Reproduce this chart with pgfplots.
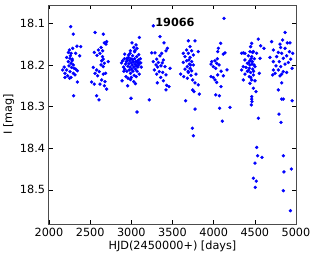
\documentclass[border=0pt]{standalone}
\usepackage{fontspec}
\setmainfont{DejaVu Sans}
\usepackage{pgfplots}
\pgfplotsset{compat=1.18}
\begin{document}
\fontsize{11.3}{13}\selectfont
\begin{tikzpicture}
\useasboundingbox (-49bp,-35bp) rectangle (267bp,224bp);
\begin{axis}[
  scale only axis,
  width=247bp, height=219bp,
  xmin=2000, xmax=5000,
  ymin=18.056, ymax=18.582,
  y dir=reverse,
  xtick={2000,2500,...,5000},
  ytick={18.1,18.2,18.3,18.4,18.5},
  yticklabels={18.1,18.2,18.3,18.4,18.5},
  /pgf/number format/assume math mode=true,
  /pgf/number format/1000 sep={},
  tick align=inside,
  major tick length=4bp,
  tick style={black, line width=0.5bp},
  axis line style={black!70, line width=1bp},
  xlabel={HJD(2450000+) [days]},
  ylabel={I [mag]},
  tick label style={font=\fontsize{11.3}{13}\selectfont},
  label style={font=\fontsize{11.3}{13}\selectfont},
  xlabel style={yshift=3bp},
  ylabel style={yshift=-2bp},
  clip=false,
]
\addplot[only marks, mark=*, mark size=1.5bp, color=blue, mark options={fill=blue, draw=blue}] table {
2263 18.108
2295 18.126
2340 18.155
2385 18.156
2288 18.160
2247 18.164
2235 18.170
2268 18.172
2324 18.172
2373 18.178
2215 18.182
2255 18.184
2283 18.186
2235 18.192
2268 18.196
2295 18.200
2243 18.202
2275 18.206
2166 18.212
2215 18.212
2324 18.210
2344 18.214
2255 18.216
2194 18.220
2295 18.220
2227 18.226
2194 18.230
2267 18.230
2316 18.224
2344 18.241
2299 18.274
2280 18.190
2260 18.178
2305 18.208
2185 18.205
2250 18.232
2559 18.122
2660 18.126
2700 18.144
2672 18.147
2692 18.150
2632 18.158
2599 18.164
2652 18.166
2550 18.170
2619 18.172
2583 18.177
2660 18.186
2640 18.190
2720 18.192
2672 18.196
2632 18.200
2660 18.204
2538 18.206
2579 18.212
2611 18.216
2559 18.220
2660 18.222
2688 18.220
2591 18.226
2640 18.236
2680 18.240
2518 18.241
2550 18.246
2619 18.246
2672 18.250
2700 18.258
2579 18.274
2607 18.284
2650 18.180
3097 18.134
3008 18.147
3057 18.152
3029 18.158
3069 18.160
2988 18.166
3040 18.168
2919 18.174
2968 18.176
3016 18.178
2947 18.184
2880 18.195
2895 18.190
2905 18.205
2915 18.185
2920 18.210
2930 18.198
2940 18.192
2945 18.215
2950 18.188
2958 18.203
2965 18.182
2970 18.197
2975 18.212
2980 18.190
2985 18.205
2990 18.220
2995 18.185
3000 18.195
3005 18.210
3010 18.200
3015 18.188
3020 18.215
3025 18.193
3030 18.205
3035 18.225
3040 18.185
3045 18.198
3050 18.210
3055 18.192
3060 18.202
3065 18.180
3070 18.215
3075 18.195
3080 18.205
3085 18.188
3090 18.200
3095 18.222
3100 18.195
3110 18.185
3120 18.205
2935 18.228
2960 18.232
3000 18.230
3030 18.240
3060 18.228
2985 18.172
3045 18.165
2910 18.215
3090 18.175
3115 18.195
2990 18.235
3050 18.245
3080 18.190
2887 18.238
2956 18.250
2996 18.280
3069 18.313
3218 18.284
3267 18.106
3348 18.132
3397 18.147
3437 18.160
3421 18.166
3247 18.171
3288 18.171
3369 18.172
3348 18.178
3308 18.186
3389 18.188
3267 18.192
3328 18.194
3300 18.200
3360 18.202
3409 18.204
3470 18.208
3279 18.212
3340 18.216
3381 18.218
3308 18.222
3421 18.224
3357 18.230
3316 18.243
3389 18.238
3429 18.249
3458 18.252
3421 18.260
3320 18.205
3375 18.195
3692 18.142
3773 18.142
3713 18.156
3672 18.164
3733 18.166
3813 18.168
3631 18.172
3692 18.172
3753 18.176
3652 18.180
3713 18.182
3672 18.190
3733 18.192
3631 18.194
3704 18.198
3753 18.200
3680 18.204
3713 18.208
3652 18.210
3733 18.214
3692 18.218
3599 18.222
3785 18.222
3636 18.228
3680 18.232
3745 18.236
3773 18.243
3813 18.248
3745 18.260
3761 18.264
3826 18.270
3660 18.286
3774 18.306
3741 18.352
3753 18.370
3700 18.188
3720 18.200
3690 18.215
3725 18.225
4126 18.088
4085 18.148
4057 18.160
4049 18.168
4138 18.171
4117 18.174
3976 18.192
4016 18.190
3968 18.198
4037 18.196
4065 18.200
3996 18.204
4025 18.208
4162 18.212
3968 18.228
3996 18.230
4049 18.224
4117 18.226
4016 18.236
4037 18.242
4089 18.252
4025 18.272
4069 18.274
4073 18.304
4198 18.302
4105 18.335
4045 18.185
4090 18.215
4542 18.138
4462 18.148
4449 18.156
4571 18.154
4611 18.160
4360 18.171
4340 18.172
4380 18.172
4441 18.168
4482 18.168
4522 18.172
4421 18.178
4462 18.180
4563 18.184
4380 18.188
4441 18.190
4409 18.196
4465 18.198
4360 18.204
4393 18.206
4433 18.208
4474 18.210
4502 18.204
4340 18.212
4421 18.214
4449 18.218
4554 18.220
4380 18.222
4482 18.224
4433 18.228
4360 18.236
4462 18.236
4502 18.238
4441 18.244
4482 18.256
4514 18.264
4462 18.276
4462 18.282
4465 18.288
4457 18.296
4542 18.328
4522 18.398
4534 18.418
4587 18.422
4502 18.436
4482 18.472
4518 18.479
4506 18.494
4455 18.185
4470 18.192
4440 18.200
4485 18.215
4425 18.195
4495 18.185
4450 18.230
4472 18.170
4410 18.215
4490 18.200
4684 18.182
4867 18.122
4838 18.140
4704 18.144
4895 18.147
4928 18.147
4806 18.150
4814 18.158
4725 18.164
4867 18.160
4920 18.168
4785 18.170
4826 18.172
4960 18.172
4765 18.180
4887 18.178
4846 18.184
4936 18.186
4725 18.192
4797 18.192
4907 18.194
4867 18.198
4757 18.202
4814 18.204
4952 18.208
4725 18.212
4785 18.212
4846 18.216
4887 18.218
4745 18.220
4826 18.222
4716 18.224
4806 18.226
4826 18.243
4785 18.260
4826 18.282
4846 18.282
4952 18.286
4793 18.318
4818 18.338
4846 18.418
4854 18.457
4944 18.450
4846 18.502
4932 18.550
};
\node[font=\bfseries\fontsize{11.3}{13}\selectfont] at (rel axis cs:0.51,0.919) {19066};
\end{axis}
\end{tikzpicture}
\end{document}
